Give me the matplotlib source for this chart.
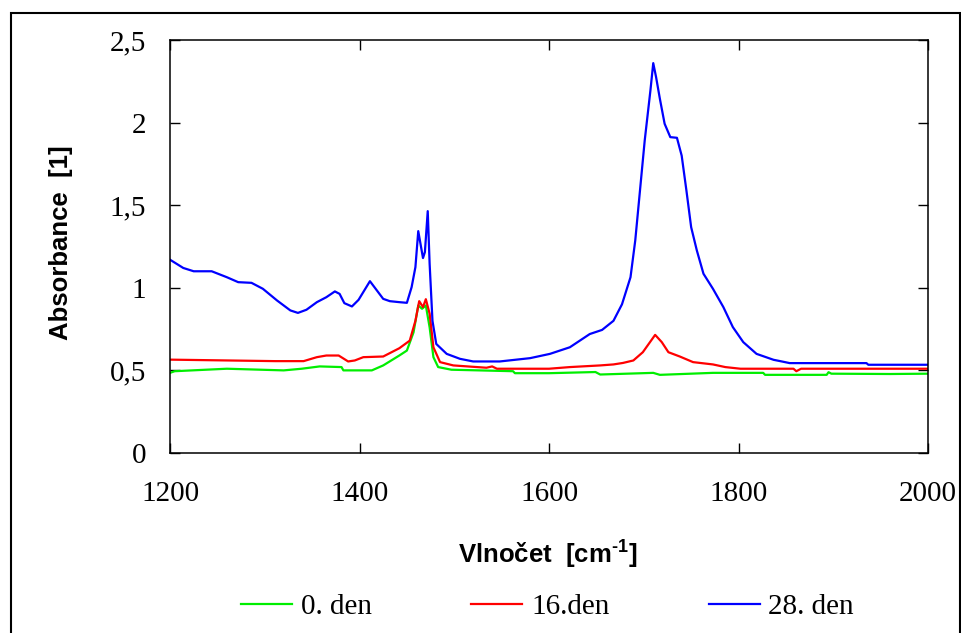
import matplotlib.pyplot as plt
from matplotlib.patches import Rectangle

# wavenumber [cm-1] and absorbance
x_day0 = [1200, 1205, 1260, 1320, 1339, 1358, 1381, 1383, 1413, 1425, 1442, 1450, 1457,
          1462, 1466, 1470, 1474, 1478, 1483, 1497, 1562, 1564, 1600, 1649, 1654, 1710,
          1717, 1773, 1826, 1828, 1893, 1895, 1898, 1960, 2000]
y_day0 = [0.485, 0.495, 0.51, 0.50, 0.51, 0.524, 0.52, 0.50, 0.50, 0.53, 0.59, 0.62, 0.73,
          0.893, 0.873, 0.893, 0.76, 0.58, 0.52, 0.504, 0.495, 0.483, 0.483, 0.49, 0.475, 0.485,
          0.473, 0.485, 0.485, 0.473, 0.473, 0.489, 0.48, 0.478, 0.48]

x_day16 = [1200, 1311, 1341, 1355, 1365, 1378, 1388, 1395, 1404, 1425, 1442, 1453, 1459,
           1463, 1467, 1470, 1474, 1478, 1485, 1499, 1534, 1540, 1545, 1600, 1622, 1654,
           1668, 1678, 1689, 1699, 1712, 1719, 1726, 1738, 1752, 1773, 1786, 1802, 1858,
           1861, 1866, 1918, 2000]
y_day16 = [0.565, 0.556, 0.556, 0.58, 0.59, 0.59, 0.554, 0.56, 0.58, 0.584, 0.634, 0.68, 0.80,
           0.919, 0.883, 0.931, 0.843, 0.64, 0.55, 0.53, 0.516, 0.524, 0.51, 0.51, 0.52, 0.53,
           0.536, 0.545, 0.56, 0.61, 0.715, 0.671, 0.61, 0.584, 0.55, 0.536, 0.52, 0.51, 0.51,
           0.495, 0.51, 0.51, 0.51]

x_day28 = [1200, 1214, 1225, 1244, 1260, 1272, 1286, 1298, 1313, 1327, 1335, 1344, 1355,
           1365, 1374, 1379, 1384, 1392, 1399, 1411, 1425, 1432, 1442, 1450, 1455, 1459,
           1462, 1467, 1469, 1472, 1474, 1477, 1481, 1492, 1506, 1520, 1548, 1580, 1601,
           1622, 1643, 1656, 1668, 1677, 1686, 1691, 1696, 1701, 1707, 1710, 1713, 1717,
           1722, 1728, 1735, 1740, 1745, 1750, 1756, 1763, 1773, 1784, 1794, 1805, 1819,
           1837, 1844, 1854, 1935, 1937, 2000]
y_day28 = [1.17, 1.12, 1.10, 1.10, 1.064, 1.034, 1.03, 0.994, 0.923, 0.863, 0.848, 0.867, 0.913,
           0.943, 0.978, 0.963, 0.907, 0.887, 0.927, 1.04, 0.933, 0.919, 0.913, 0.909, 1.004, 1.125,
           1.343, 1.18, 1.216, 1.464, 1.145, 0.80, 0.66, 0.60, 0.57, 0.554, 0.554, 0.574, 0.60,
           0.64, 0.72, 0.745, 0.80, 0.90, 1.064, 1.286, 1.589, 1.892, 2.194, 2.36, 2.275, 2.144,
           1.993, 1.912, 1.908, 1.80, 1.589, 1.367, 1.226, 1.085, 0.994, 0.883, 0.762, 0.671, 0.60,
           0.564, 0.556, 0.544, 0.544, 0.534, 0.534]

labels = ['0. den', '16.den', '28. den']
y_ticks = [0, 0.5, 1, 1.5, 2, 2.5]
y_ticklabels = ['0', '0,5', '1', '1,5', '2', '2,5']
x_ticks = [1200, 1400, 1600, 1800, 2000]

serif = 'Liberation Serif'
sans = 'Liberation Sans'
plt.rcParams['mathtext.fontset'] = 'custom'
plt.rcParams['mathtext.rm'] = 'Liberation Sans:bold'
plt.rcParams['mathtext.it'] = 'Liberation Sans:bold'
plt.rcParams['mathtext.bf'] = 'Liberation Sans:bold'

fig = plt.figure(figsize=(9.61, 6.33), dpi=100)
ax = fig.add_axes([0.1769, 0.2844, 0.7888, 0.6524])

ax.plot(x_day0, y_day0, color='#00ee00', linewidth=1.6, label=labels[0])
ax.plot(x_day16, y_day16, color='#ff0000', linewidth=1.6, label=labels[1])
ax.plot(x_day28, y_day28, color='#0000ff', linewidth=1.6, label=labels[2])

ax.set_xlim(1200, 2000)
ax.set_ylim(0, 2.5)
ax.set_xticks(x_ticks)
ax.set_xticklabels([str(t) for t in x_ticks], fontfamily=serif, fontsize=21)
ax.set_yticks(y_ticks)
ax.set_yticklabels(y_ticklabels, fontfamily=serif, fontsize=21)
ax.tick_params(direction='in', length=7, width=1, top=True, right=True)
ax.tick_params(axis='x', pad=20)
ax.tick_params(axis='y', pad=17)
for s in ax.spines.values():
    s.set_linewidth(1.1)

fig.text(0.570, 1 - 555 / 633, r'Vlnočet  [cm$^{\text{-1}}$]', ha='center', va='center',
         fontfamily=sans, fontweight='bold', fontsize=18.5)
fig.text(61 / 961, 1 - 243 / 633, 'Absorbance  [1]', ha='center', va='center', rotation=90,
         fontfamily=sans, fontweight='bold', fontsize=18.5)

fig.legend(loc='center', bbox_to_anchor=(0.570, 1 - 607 / 633), ncol=3, frameon=False,
           prop={'family': serif, 'size': 21}, handlelength=1.75, handletextpad=0.3,
           columnspacing=3.4)

fig.patches.append(Rectangle((11 / 961, -0.05), 949 / 961, 1 - 13 / 633 + 0.05,
                             transform=fig.transFigure, fill=False, edgecolor='black',
                             linewidth=1.5))

fig.savefig('out.png', dpi=100)
